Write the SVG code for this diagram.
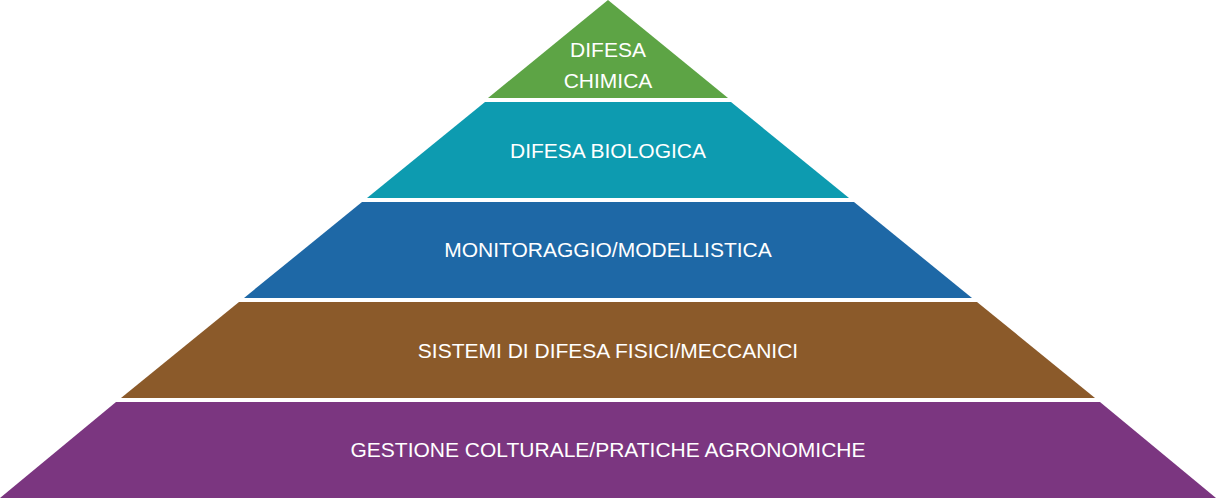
<svg xmlns="http://www.w3.org/2000/svg" width="1216" height="498" viewBox="0 0 1216 498">
<style>text{font-family:"Liberation Sans",Arial,sans-serif;font-size:21px;fill:#fff;text-anchor:middle}</style>
<rect width="1216" height="498" fill="#fff"/>
<g id="chimica"><polygon points="608,0 728,98 488,98" fill="#5da445"/><text x="608" y="57">DIFESA</text><text x="608" y="88">CHIMICA</text></g>
<g id="biologica"><polygon points="485,102 731,102 849,198 367,198" fill="#0d9bb0"/><text x="608" y="158">DIFESA BIOLOGICA</text></g>
<g id="monitoraggio"><polygon points="362,202 854,202 972,298 244,298" fill="#1e68a6"/><text x="608" y="257">MONITORAGGIO/MODELLISTICA</text></g>
<g id="sistemi"><polygon points="239,302 977,302 1095,398 121,398" fill="#8b5a2a"/><text x="608" y="358">SISTEMI DI DIFESA FISICI/MECCANICI</text></g>
<g id="gestione"><polygon points="116,402 1100,402 1216,498 0,498" fill="#7b3680"/><text x="608" y="457">GESTIONE COLTURALE/PRATICHE AGRONOMICHE</text></g>
<g id="connectors"/>
</svg>
